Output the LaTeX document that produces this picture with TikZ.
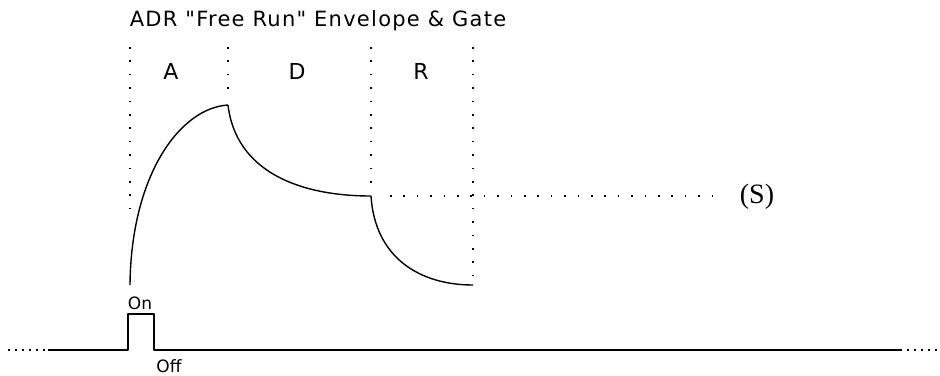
\documentclass[tikz,border=0pt]{standalone}
\usepackage{fontspec}
\setmainfont{DejaVu Sans}
\newfontfamily\widesans[LetterSpace=6]{DejaVu Sans}
\newfontfamily\serifsym{Liberation Serif}
\usetikzlibrary{positioning}

\begin{document}
\begin{tikzpicture}[x=1pt,y=-1pt,
  env/.style={line width=1.4pt,line join=round},
  guide/.style={line width=1.6pt,dash pattern=on 1.6pt off 11.8pt},
  lbl/.style={font=\fontsize{22}{22}\selectfont,inner sep=0pt},
  small/.style={font=\fontsize{17}{17}\selectfont,inner sep=0pt}
]
\useasboundingbox (0,0) rectangle (940,375);
% key points of the envelope
\coordinate (start) at (130,285);
\coordinate (peak) at (228,105);
\coordinate (sus) at (371,196);
\coordinate (rel) at (473,285);
\coordinate (susend) at (724,196);
% title and stage labels
\node[lbl,font=\widesans\fontsize{21}{21}\selectfont] (title) at (318,21)
  {ADR \symbol{34}Free Run\symbol{34} Envelope \& Gate};
\node[lbl] (a) at (171,71) {A};
\node[lbl] (d) at (297,71) {D};
\node[lbl] (r) at (421,71) {R};
\node[lbl,font=\serifsym\fontsize{28}{28}\selectfont] (s) at (757,197) {(S)};
% stage borders
\draw[guide] (130,47) -- (130,210);
\draw[guide] (228,47) -- (228,92);
\draw[guide] (371,47) -- (371,185);
\draw[guide] (473,47) -- (473,283);
\draw[guide] (390,196) -- (susend);
% envelope
\draw[env] (start) .. controls (131,175) and (180,108) .. (peak);
\draw[env] (peak) .. controls (236,172) and (300,196) .. (sus);
\draw[env] (sus) .. controls (375,258) and (420,285) .. (rel);
% gate
\coordinate (g0) at (48,350);
\coordinate (g1) at (128,350);
\coordinate (g2) at (128,314);
\coordinate (g3) at (154,314);
\coordinate (g4) at (154,350);
\coordinate (g5) at (902,350);
\draw[guide,dash pattern=on 1.6pt off 5.4pt] (8,350) -- (g0);
\draw[guide,dash pattern=on 1.6pt off 5.4pt] (907,350) -- (940,350);
\draw[env,line width=1.2pt] (g0) -- (g1) -- (g2) -- (g3) -- (g4) -- (g5);
\node[small] (on) at (140,303) {On};
\node[small] (off) at (169,366) {Off};
\end{tikzpicture}
\end{document}
